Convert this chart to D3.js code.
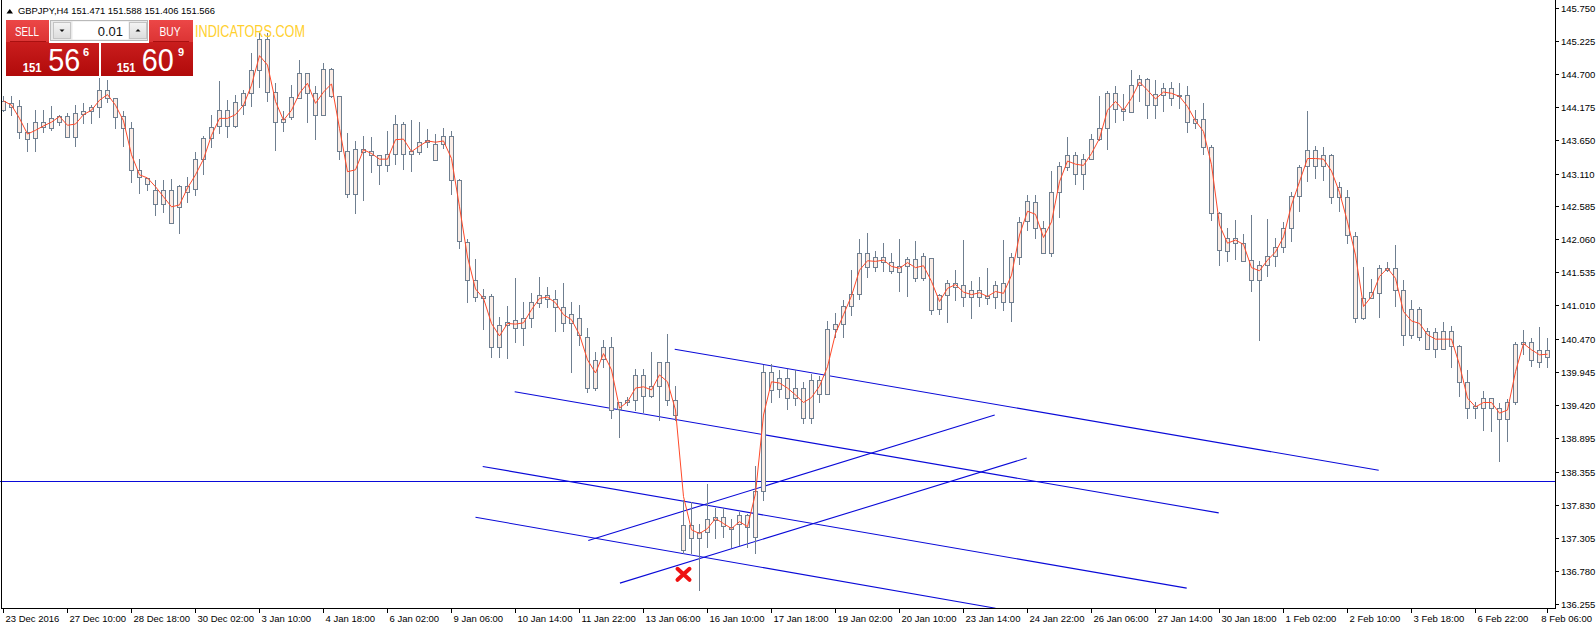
<!DOCTYPE html>
<html><head><meta charset="utf-8">
<script src="https://cdn.jsdelivr.net/npm/d3@7"></script>
<style>
html,body{margin:0;padding:0;background:#fff;overflow:hidden}
svg{display:block}
text{font-family:"Liberation Sans",Arial,sans-serif}
</style></head><body>
<svg id="chart" width="1596" height="626"></svg>
<script>
// ---------------- DATA (GBPJPY H4) ----------------
const openP=[144.12,144.24,144.19,143.78,143.67,143.93,143.83,144.03,144.03,143.70,
144.06,144.10,144.17,144.45,144.31,144.03,143.83,143.17,143.04,142.85,
142.62,142.85,142.58,142.91,142.86,143.34,143.67,143.87,144.13,143.87,
144.21,144.39,144.76,145.25,144.41,143.93,144.01,144.32,144.71,144.39,
144.05,144.77,144.35,143.47,142.78,143.50,143.47,143.40,143.24,143.42,
143.90,143.43,143.46,143.62,143.58,143.58,143.71,143.01,142.02,141.42,
141.13,141.15,140.34,140.69,140.77,140.64,140.80,141.04,141.17,141.11,
140.99,140.72,140.81,140.50,139.69,140.15,140.34,139.35,139.46,139.50,
139.90,139.56,139.72,140.10,139.50,137.50,137.30,137.39,137.39,137.59,
137.64,137.48,137.52,137.66,137.32,138.05,139.94,139.67,139.85,139.53,
139.69,139.21,139.82,139.59,140.63,140.71,141.00,141.19,141.85,141.62,
141.78,141.70,141.54,141.64,141.74,141.44,141.76,140.95,141.18,141.36,
141.33,141.14,141.25,141.13,141.14,141.36,141.07,141.78,142.35,142.65,
142.25,141.85,142.81,143.22,143.41,143.10,143.35,143.66,143.83,144.39,
144.14,144.09,144.53,144.62,144.20,144.37,144.47,144.34,144.36,143.91,
143.98,143.53,142.48,141.88,142.08,142.00,141.73,141.42,141.66,141.80,
141.94,142.24,142.76,143.23,143.49,143.23,143.41,142.73,142.74,142.11,
140.80,141.12,141.20,141.60,141.60,141.25,140.54,140.95,140.60,140.32,
140.60,140.36,140.36,139.79,139.38,139.38,139.53,139.37,139.19,139.46,
140.40,140.42,140.11,140.30];
const highP=[144.35,144.35,144.28,143.91,144.12,144.13,144.19,144.04,144.07,144.20,
144.23,144.21,144.63,144.60,144.32,144.10,143.94,143.34,143.04,143.01,
143.01,143.02,142.93,143.06,143.46,143.71,144.04,144.59,144.28,144.36,
144.44,145.04,145.35,145.35,144.55,144.10,144.52,144.92,144.72,144.51,
144.88,144.80,144.35,143.76,143.63,143.71,143.69,143.41,143.79,144.04,
143.93,143.96,143.93,143.82,143.74,143.83,143.79,143.02,142.07,141.75,
141.27,141.19,140.82,141.00,141.44,141.06,141.20,141.46,141.30,141.25,
141.37,141.06,141.01,140.64,140.27,140.45,140.50,139.47,139.54,140.00,
140.00,140.26,140.10,140.56,139.72,137.91,137.88,137.53,138.16,137.77,
137.77,137.61,137.71,137.69,138.44,140.06,140.07,139.98,139.99,139.98,
139.79,139.91,139.88,140.76,140.89,141.09,141.57,142.07,142.16,141.88,
142.00,141.84,142.07,141.78,142.04,141.84,141.76,141.19,141.41,141.57,
142.05,141.40,141.46,141.60,141.40,142.05,141.85,142.41,142.77,142.77,
142.36,143.15,143.29,143.70,143.46,143.42,143.74,144.35,144.43,144.51,
144.38,144.76,144.68,144.64,144.60,144.55,144.57,144.55,144.51,144.12,
144.23,143.57,142.49,142.25,142.37,142.14,142.45,141.72,142.39,142.08,
142.33,142.81,143.25,144.11,143.55,143.53,143.42,142.98,142.85,142.18,
141.62,141.43,141.65,141.70,141.97,141.41,141.09,140.99,140.65,140.64,
140.74,140.68,140.38,139.98,139.46,139.64,139.53,139.45,139.52,140.42,
140.62,140.49,140.66,140.49];
const lowP=[144.11,144.04,143.67,143.47,143.47,143.78,143.80,143.88,143.69,143.55,
143.91,143.91,144.02,144.25,143.83,143.55,142.98,142.80,142.85,142.45,
142.50,142.32,142.16,142.66,142.77,143.10,143.54,143.75,143.70,143.85,
144.06,144.19,144.49,144.26,143.49,143.79,143.98,144.31,143.93,143.66,
144.04,144.33,143.34,142.73,142.48,142.69,143.13,142.95,143.15,143.26,
143.19,143.15,143.43,143.54,143.32,143.51,142.78,141.92,141.06,141.08,
140.63,140.19,140.19,140.17,140.43,140.37,140.67,140.98,140.98,140.60,
140.60,139.94,140.38,139.63,139.66,140.02,139.21,138.91,139.42,139.34,
139.31,139.55,139.18,139.42,139.18,137.06,137.06,136.47,137.16,137.30,
137.32,137.16,137.19,137.16,137.06,137.91,139.46,139.54,139.35,139.42,
139.14,139.13,139.47,139.59,140.51,140.50,140.86,141.11,141.46,141.55,
141.55,141.52,141.23,141.15,141.39,141.42,140.87,140.87,140.75,141.09,
141.00,140.80,141.00,141.03,140.96,140.94,140.76,141.67,142.21,142.09,
141.85,141.80,142.41,143.17,142.94,142.87,143.34,143.64,143.50,143.93,
143.96,144.09,144.26,144.00,143.99,144.10,144.21,144.16,143.77,143.84,
143.42,142.37,141.66,141.72,141.74,141.71,141.24,140.46,141.47,141.64,
141.86,142.04,142.51,142.99,143.04,143.01,142.64,142.52,142.00,140.75,
140.79,141.12,140.83,141.55,141.00,140.37,140.49,140.45,140.32,140.19,
140.32,140.02,139.57,139.22,139.21,139.02,139.01,138.53,138.85,139.43,
140.24,140.04,140.03,140.03];
const closeP=[144.27,144.17,143.77,143.66,143.93,143.85,143.99,143.93,143.70,144.07,
144.10,144.17,144.45,144.31,144.02,143.83,143.16,143.06,142.94,142.62,
142.85,142.32,142.91,142.82,143.34,143.67,143.86,144.13,143.87,144.25,
144.39,144.76,145.25,144.41,143.93,143.98,144.33,144.71,144.39,144.05,
144.77,144.35,143.47,142.78,143.50,143.46,143.41,143.24,143.42,143.90,
143.43,143.47,143.62,143.65,143.32,143.71,143.01,142.04,141.42,141.14,
141.15,140.34,140.69,140.75,140.64,140.80,141.06,141.17,141.11,140.99,
140.72,140.87,140.54,139.69,140.13,140.34,139.34,139.47,139.50,139.90,
139.56,139.72,140.10,139.50,139.26,137.11,137.50,137.30,137.61,137.64,
137.49,137.44,137.66,137.47,138.05,139.94,139.66,139.85,139.53,139.69,
139.21,139.82,139.59,140.63,140.71,141.00,141.19,141.85,141.62,141.78,
141.70,141.55,141.63,141.74,141.44,141.80,140.94,141.17,141.36,141.30,
141.14,141.25,141.14,141.15,141.33,141.07,141.78,142.33,142.67,142.25,
141.85,142.81,143.23,143.41,143.11,143.35,143.66,143.83,144.39,144.14,
144.11,144.53,144.62,144.20,144.38,144.47,144.32,144.36,143.93,143.98,
143.54,142.48,141.89,142.09,142.00,141.72,141.42,141.66,141.80,141.94,
142.25,142.76,143.21,143.49,143.23,143.41,142.73,142.90,142.13,140.80,
141.12,141.22,141.60,141.58,141.25,140.54,140.95,140.50,140.32,140.59,
140.32,140.60,139.79,139.38,139.41,139.53,139.37,139.19,139.46,140.39,
140.42,140.14,140.30,140.19];
const maP=[144.27,144.20,143.99,143.74,143.80,143.87,143.93,144.02,143.88,143.90,
144.05,144.12,144.28,144.37,144.20,143.95,143.41,143.09,143.04,142.90,
142.74,142.58,142.61,142.88,143.09,143.34,143.72,143.99,143.99,144.05,
144.20,144.52,144.99,144.84,144.26,143.96,144.12,144.39,144.55,144.23,
144.41,144.54,143.83,143.14,143.17,143.49,143.43,143.34,143.34,143.65,
143.66,143.46,143.55,143.63,143.61,143.63,143.35,142.58,141.78,141.27,
141.12,140.72,140.52,140.72,140.71,140.73,140.94,141.12,141.14,141.05,
140.86,140.78,140.54,140.14,139.93,140.24,139.98,139.37,139.47,139.69,
139.71,139.66,139.90,139.79,139.34,137.96,137.43,137.37,137.45,137.61,
137.53,137.45,137.56,137.48,138.01,139.26,139.79,139.77,139.69,139.58,
139.46,139.54,139.72,140.03,140.56,140.86,141.16,141.57,141.72,141.71,
141.73,141.63,141.60,141.69,141.61,141.64,141.39,141.07,141.28,141.34,
141.22,141.18,141.21,141.15,141.23,141.20,141.49,142.13,142.51,142.46,
142.09,142.34,142.98,143.31,143.26,143.24,143.43,143.67,144.12,144.26,
144.12,144.31,144.57,144.44,144.30,144.41,144.39,144.34,144.18,143.95,
143.78,143.25,142.29,142.00,142.05,141.98,141.61,141.56,141.73,141.86,
142.10,142.61,142.98,143.35,143.35,143.34,143.15,142.81,142.34,141.81,
140.99,141.15,141.47,141.60,141.44,140.91,140.76,140.72,140.54,140.47,
140.47,140.47,140.06,139.53,139.39,139.46,139.46,139.29,139.34,139.95,
140.40,140.30,140.22,140.23];

const priceTicks=[145.750,145.225,144.700,144.175,143.650,143.110,142.585,142.060,141.535,141.010,140.470,139.945,139.420,138.895,138.355,137.830,137.305,136.780,136.255];
const dateLabels=["23 Dec 2016","27 Dec 10:00","28 Dec 18:00","30 Dec 02:00","3 Jan 10:00","4 Jan 18:00","6 Jan 02:00","9 Jan 06:00","10 Jan 14:00","11 Jan 22:00","13 Jan 06:00","16 Jan 10:00","17 Jan 18:00","19 Jan 02:00","20 Jan 10:00","23 Jan 14:00","24 Jan 22:00","26 Jan 06:00","27 Jan 14:00","30 Jan 18:00","1 Feb 02:00","2 Feb 10:00","3 Feb 18:00","6 Feb 22:00","8 Feb 06:00"];
const dateIdx=[0,8,16,24,32,40,48,56,64,72,80,88,96,104,112,120,128,136,144,152,160,168,176,184,193];

// trend lines: [barIndex1, price1, barIndex2, price2]
const trendLines=[
 [83.9,140.31,171.9,138.38],
 [63.9,139.63,151.9,137.70],
 [59.9,138.44,147.9,136.50],
 [59.0,137.63,124.0,136.18],
 [73.1,137.26,123.9,139.26],
 [77.05,136.58,127.9,138.575]
];
const hLinePrice=138.21;
const crossMark=[85,136.72];

const symbolInfo="GBPJPY,H4  151.471 151.588 151.406 151.566";
const sellQuote=["151","56","6"];
const buyQuote=["151","60","9"];
const lotSize="0.01";
const watermark="INDICATORS.COM";

// ---------------- DRAWING ----------------
const W=1596, PR=1555, PB=608;
const svg=d3.select("#chart");
const x=d3.scaleLinear().domain([0,193]).range([3.5,3.5+8*193]);
const y=d3.scaleLinear().domain([136.255,145.75]).range([603.5,8]);

const defs=svg.append("defs");
defs.append("clipPath").attr("id","clip").append("rect").attr("x",0).attr("y",0).attr("width",PR).attr("height",PB);
const g1=defs.append("linearGradient").attr("id","redLow").attr("x1",0).attr("y1",0).attr("x2",0).attr("y2",1);
g1.append("stop").attr("offset","0%").attr("stop-color","#d92a2a");
g1.append("stop").attr("offset","100%").attr("stop-color","#b10a0a");
const g2=defs.append("linearGradient").attr("id","redTop").attr("x1",0).attr("y1",0).attr("x2",0).attr("y2",1);
g2.append("stop").attr("offset","0%").attr("stop-color","#ec4747");
g2.append("stop").attr("offset","100%").attr("stop-color","#dc3434");
const g3=defs.append("linearGradient").attr("id","grayBtn").attr("x1",0).attr("y1",0).attr("x2",0).attr("y2",1);
g3.append("stop").attr("offset","0%").attr("stop-color","#f4f4f4");
g3.append("stop").attr("offset","100%").attr("stop-color","#dcdcdc");

const plot=svg.append("g").attr("clip-path","url(#clip)");
const idx=d3.range(openP.length);

// horizontal line
plot.append("line").attr("x1",0).attr("x2",PR)
  .attr("y1",Math.round(y(hLinePrice))+0.5).attr("y2",Math.round(y(hLinePrice))+0.5)
  .attr("stroke","#0a0ad8").attr("stroke-width",1);

// trend lines
plot.selectAll(".tl").data(trendLines).join("line").attr("class","tl")
  .attr("x1",d=>x(d[0])).attr("y1",d=>y(d[1])).attr("x2",d=>x(d[2])).attr("y2",d=>y(d[3]))
  .attr("stroke","#0a0ad8").attr("stroke-width",1.1);

// wicks
plot.selectAll(".wick").data(idx).join("line").attr("class","wick")
  .attr("x1",i=>x(i)).attr("x2",i=>x(i))
  .attr("y1",i=>Math.round(y(highP[i])))
  .attr("y2",i=>Math.round(y(lowP[i]))+1)
  .attr("stroke","#6f7f90").attr("stroke-width",1);

// bodies
plot.selectAll(".body").data(idx).join("rect").attr("class","body")
  .attr("x",i=>x(i)-2).attr("width",4)
  .attr("y",i=>Math.round(y(Math.max(openP[i],closeP[i])))+0.5)
  .attr("height",i=>Math.max(0,Math.round(y(Math.min(openP[i],closeP[i])))-Math.round(y(Math.max(openP[i],closeP[i])))))
  .attr("fill","#fbede6").attr("stroke","#6f7f90").attr("stroke-width",1);

// moving average
plot.append("path").datum(idx)
  .attr("d",d3.line().x(i=>x(i)).y(i=>y(maP[i])))
  .attr("fill","none").attr("stroke","#ff4a2a").attr("stroke-width",1);

// cross marker
plot.append("path")
  .attr("transform",`translate(${x(crossMark[0])},${y(crossMark[1])})`)
  .attr("d","M-6,-5.5L6,5.5M6,-5.5L-6,5.5")
  .attr("stroke","#ee1111").attr("stroke-width",4).attr("stroke-linecap","round").attr("fill","none");

// frame
svg.append("line").attr("x1",1.5).attr("x2",1.5).attr("y1",0).attr("y2",PB).attr("stroke","#000");
svg.append("line").attr("x1",PR+0.5).attr("x2",PR+0.5).attr("y1",0).attr("y2",PB+1).attr("stroke","#000");
svg.append("line").attr("x1",1).attr("x2",PR+1).attr("y1",PB+0.5).attr("y2",PB+0.5).attr("stroke","#000");

// price axis
const pa=svg.append("g");
pa.selectAll("line").data(priceTicks).join("line")
  .attr("x1",PR+1).attr("x2",PR+4)
  .attr("y1",d=>Math.round(y(d))+0.5).attr("y2",d=>Math.round(y(d))+0.5).attr("stroke","#000");
pa.selectAll("text").data(priceTicks).join("text")
  .attr("x",PR+6).attr("y",d=>Math.round(y(d))+3.5)
  .attr("font-size","9.5px").attr("fill","#000").text(d=>d.toFixed(3));

// date axis
const da=svg.append("g");
da.selectAll("line").data(dateIdx).join("line")
  .attr("x1",d=>x(d)).attr("x2",d=>x(d)).attr("y1",PB).attr("y2",PB+5).attr("stroke","#000");
da.selectAll("text").data(dateIdx).join("text")
  .attr("x",d=>x(d)+2).attr("y",622)
  .attr("font-size","9.5px").attr("fill","#000").text((d,k)=>dateLabels[k])
  .each(function(){
    const len=this.getComputedTextLength();
    const x0=+this.getAttribute("x");
    if(x0+len>W-4) this.setAttribute("x",W-4-len);
  });

// title
svg.append("path").attr("d","M6.5,13.5L13,13.5L9.75,9Z").attr("fill","#000");
svg.append("text").attr("x",18).attr("y",14).attr("font-size","9.5px").attr("fill","#000")
  .attr("textLength",197).attr("lengthAdjust","spacingAndGlyphs").text(symbolInfo);

// one-click trading panel
const tp=svg.append("g");
tp.append("rect").attr("x",6).attr("y",20).attr("width",93).attr("height",56).attr("fill","url(#redLow)");
tp.append("rect").attr("x",101).attr("y",20).attr("width",92).attr("height",56).attr("fill","url(#redLow)");
tp.append("rect").attr("x",6).attr("y",20).attr("width",43).attr("height",22).attr("fill","url(#redTop)");
tp.append("rect").attr("x",149).attr("y",20).attr("width",44).attr("height",22).attr("fill","url(#redTop)");
tp.append("line").attr("x1",10).attr("x2",46).attr("y1",41.5).attr("y2",41.5).attr("stroke","#a91010");
tp.append("line").attr("x1",153).attr("x2",189).attr("y1",41.5).attr("y2",41.5).attr("stroke","#a91010");
// lot spinner
tp.append("rect").attr("x",49).attr("y",20).attr("width",100).attr("height",23).attr("fill","#ffffff");
tp.append("rect").attr("x",50.5).attr("y",20.5).attr("width",97).attr("height",20).attr("fill","#e9e9e9").attr("stroke","#b9b9b9");
tp.append("rect").attr("x",72.5).attr("y",21.5).attr("width",56).attr("height",18).attr("fill","#ffffff");
tp.append("rect").attr("x",53.5).attr("y",22.5).attr("width",17).attr("height",16).attr("fill","url(#grayBtn)").attr("stroke","#c4c4c4");
tp.append("rect").attr("x",129.5).attr("y",22.5).attr("width",17).attr("height",16).attr("fill","url(#grayBtn)").attr("stroke","#c4c4c4");
tp.append("path").attr("d","M59.5,29.5L64.5,29.5L62,32Z").attr("fill","#111");
tp.append("path").attr("d","M135.5,31.5L140.5,31.5L138,29Z").attr("fill","#111");
tp.append("text").attr("x",123).attr("y",35.5).attr("text-anchor","end").attr("font-size","13px").attr("fill","#111").text(lotSize);
// button labels
tp.append("text").attr("x",27).attr("y",36).attr("text-anchor","middle").attr("font-size","13px").attr("fill","#fff")
  .attr("textLength",24).attr("lengthAdjust","spacingAndGlyphs").text("SELL");
tp.append("text").attr("x",170).attr("y",36).attr("text-anchor","middle").attr("font-size","13px").attr("fill","#fff")
  .attr("textLength",21).attr("lengthAdjust","spacingAndGlyphs").text("BUY");
// quotes
function quote(q,x0,xBig,xSup){
  tp.append("text").attr("x",x0).attr("y",71.5).attr("font-size","12px").attr("font-weight","bold").attr("fill","#fff")
    .attr("textLength",19).attr("lengthAdjust","spacingAndGlyphs").text(q[0]);
  tp.append("text").attr("x",xBig).attr("y",70.5).attr("font-size","32px").attr("fill","#fff")
    .attr("textLength",32).attr("lengthAdjust","spacingAndGlyphs").text(q[1]);
  tp.append("text").attr("x",xSup).attr("y",56).attr("font-size","11px").attr("font-weight","bold").attr("fill","#fff").text(q[2]);
}
quote(sellQuote,22.7,48.3,83);
quote(buyQuote,116.7,141.7,178);
// watermark
svg.append("text").attr("x",195).attr("y",37).attr("font-size","16px").attr("fill","#ffd02e")
  .attr("textLength",110).attr("lengthAdjust","spacingAndGlyphs").text(watermark);
</script></body></html>
